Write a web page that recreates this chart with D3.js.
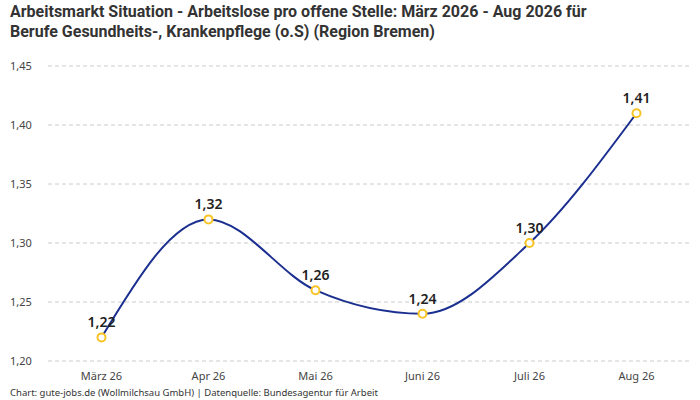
<!DOCTYPE html>
<html>
<head>
<meta charset="utf-8">
<script src="https://cdn.jsdelivr.net/npm/d3@7"></script>
<style>
  body { margin: 0; background: #fff; }
  svg { font-family: "Noto Sans", "Open Sans", sans-serif; }
</style>
</head>
<body>
<div id="chart"></div>
<script>
// data
const months = ['März 26', 'Apr 26', 'Mai 26', 'Juni 26', 'Juli 26', 'Aug 26'];
const ratios = [1.22, 1.32, 1.26, 1.24, 1.30, 1.41];
const yTicks = [1.20, 1.25, 1.30, 1.35, 1.40, 1.45];
const titleLines = [
  'Arbeitsmarkt Situation - Arbeitslose pro offene Stelle: März 2026 - Aug 2026 für',
  'Berufe Gesundheits-, Krankenpflege (o.S) (Region Bremen)'
];
const footer = 'Chart: gute-jobs.de (Wollmilchsau GmbH) | Datenquelle: Bundesagentur für Arbeit';

const width = 700;
const height = 400;
const margin = { top: 66, right: 10, bottom: 39, left: 48 };

const svg = d3.select('#chart').append('svg')
  .attr('width', width)
  .attr('height', height);

const fmt = (v) => v.toFixed(2).replace('.', ',');

const x = d3.scaleBand()
  .domain(months)
  .range([margin.left, width - margin.right]);

const y = d3.scaleLinear()
  .domain([1.20, 1.45])
  .range([height - margin.bottom, margin.top]);

// title
svg.append('g')
  .selectAll('text')
  .data(titleLines)
  .join('text')
  .attr('x', 10)
  .attr('y', (d, i) => 17 + i * 19.5)
  .attr('font-family', 'Roboto, sans-serif')
  .attr('font-weight', 'bold')
  .attr('font-size', 16)
  .attr('fill', '#333')
  .text((d) => d);

// grid + y labels
const yAxis = svg.append('g');
yAxis.selectAll('line')
  .data(yTicks)
  .join('line')
  .attr('x1', margin.left)
  .attr('x2', width - margin.right)
  .attr('y1', (d) => y(d))
  .attr('y2', (d) => y(d))
  .attr('stroke', '#ccc')
  .attr('stroke-dasharray', '4,3');
yAxis.selectAll('text')
  .data(yTicks)
  .join('text')
  .attr('x', 10)
  .attr('y', (d) => y(d) + 4)
  .attr('font-size', 11)
  .attr('fill', '#444')
  .text(fmt);

// x labels
svg.append('g')
  .selectAll('text')
  .data(months)
  .join('text')
  .attr('x', (d) => x(d) + x.bandwidth() / 2)
  .attr('y', height - margin.bottom + 19)
  .attr('text-anchor', 'middle')
  .attr('font-size', 11)
  .attr('fill', '#444')
  .text((d) => d);

// line
const points = months.map((m, i) => ({ m, v: ratios[i] }));
const line = d3.line()
  .x((d) => x(d.m) + x.bandwidth() / 2)
  .y((d) => y(d.v))
  .curve(d3.curveMonotoneX);

svg.append('path')
  .datum(points)
  .attr('d', line)
  .attr('fill', 'none')
  .attr('stroke', '#1a2f8f')
  .attr('stroke-width', 2);

svg.append('g')
  .selectAll('circle')
  .data(points)
  .join('circle')
  .attr('cx', (d) => x(d.m) + x.bandwidth() / 2)
  .attr('cy', (d) => y(d.v))
  .attr('r', 4)
  .attr('fill', '#fff')
  .attr('stroke', '#f7c325')
  .attr('stroke-width', 2);

svg.append('g')
  .selectAll('text')
  .data(points)
  .join('text')
  .attr('x', (d) => x(d.m) + x.bandwidth() / 2)
  .attr('y', (d) => y(d.v) - 10)
  .attr('text-anchor', 'middle')
  .attr('font-size', 14)
  .attr('font-weight', 600)
  .attr('fill', '#222')
  .text((d) => fmt(d.v));

// footer
svg.append('text')
  .attr('x', 10)
  .attr('y', 396)
  .attr('font-size', 9.5)
  .attr('fill', '#333')
  .text(footer);
</script>
</body>
</html>
